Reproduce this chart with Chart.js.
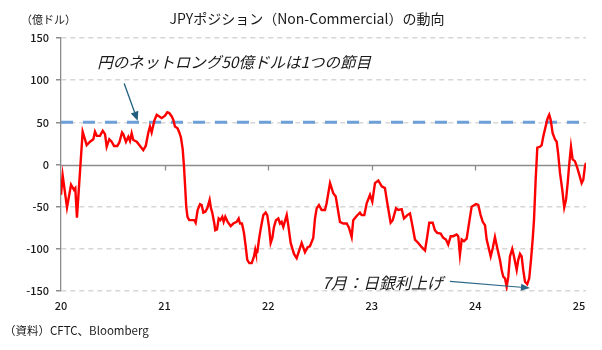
<!DOCTYPE html>
<html>
<head>
<meta charset="utf-8">
<script src="https://cdn.jsdelivr.net/npm/chart.js@4.4.1/dist/chart.umd.min.js"></script>
<style>
  html, body { margin: 0; padding: 0; background: #fff; }
</style>
</head>
<body>
<canvas id="chart" width="602" height="350"></canvas>
<script>
// week positions as decimal years, net non-commercial JPY position (100m USD)
const weekPos = [
  2020.000, 2020.016, 2020.058, 2020.097, 2020.125, 2020.138, 2020.154, 2020.209, 2020.248, 2020.280,
  2020.312, 2020.328, 2020.345, 2020.376, 2020.403, 2020.425, 2020.441, 2020.466, 2020.489, 2020.512,
  2020.543, 2020.563, 2020.589, 2020.601, 2020.627, 2020.650, 2020.666, 2020.682, 2020.698, 2020.731,
  2020.763, 2020.794, 2020.818, 2020.843, 2020.859, 2020.875, 2020.901, 2020.924, 2020.949, 2020.972,
  2021.004, 2021.026, 2021.045, 2021.069, 2021.084, 2021.100, 2021.125, 2021.142, 2021.158, 2021.175,
  2021.187, 2021.200, 2021.209, 2021.221, 2021.238, 2021.271, 2021.287, 2021.300, 2021.319, 2021.342,
  2021.358, 2021.374, 2021.393, 2021.412, 2021.435, 2021.448, 2021.460, 2021.480, 2021.489, 2021.506,
  2021.522, 2021.538, 2021.557, 2021.570, 2021.586, 2021.609, 2021.638, 2021.663, 2021.696, 2021.715,
  2021.728, 2021.747, 2021.766, 2021.783, 2021.798, 2021.818, 2021.841, 2021.863, 2021.875, 2021.882,
  2021.895, 2021.911, 2021.931, 2021.953, 2021.976, 2021.991, 2022.008, 2022.024, 2022.040, 2022.056,
  2022.075, 2022.098, 2022.114, 2022.130, 2022.146, 2022.179, 2022.194, 2022.217, 2022.249, 2022.275,
  2022.323, 2022.355, 2022.381, 2022.403, 2022.435, 2022.452, 2022.468, 2022.490, 2022.516, 2022.548,
  2022.564, 2022.597, 2022.628, 2022.652, 2022.693, 2022.725, 2022.758, 2022.780, 2022.806, 2022.821,
  2022.854, 2022.886, 2022.902, 2022.928, 2022.951, 2022.983, 2023.005, 2023.031, 2023.063, 2023.096,
  2023.127, 2023.150, 2023.182, 2023.202, 2023.234, 2023.256, 2023.289, 2023.311, 2023.343, 2023.369,
  2023.385, 2023.417, 2023.449, 2023.482, 2023.514, 2023.536, 2023.555, 2023.588, 2023.610, 2023.632,
  2023.665, 2023.690, 2023.716, 2023.738, 2023.762, 2023.787, 2023.819, 2023.835, 2023.851, 2023.868,
  2023.890, 2023.916, 2023.941, 2023.964, 2023.980, 2024.006, 2024.028, 2024.051, 2024.071, 2024.093,
  2024.109, 2024.125, 2024.148, 2024.168, 2024.189, 2024.211, 2024.237, 2024.254, 2024.269, 2024.286,
  2024.302, 2024.318, 2024.334, 2024.356, 2024.373, 2024.399, 2024.414, 2024.431, 2024.447, 2024.462,
  2024.479, 2024.501, 2024.520, 2024.537, 2024.553, 2024.566, 2024.582, 2024.598, 2024.624, 2024.640,
  2024.655, 2024.682, 2024.698, 2024.713, 2024.727, 2024.746, 2024.768, 2024.785, 2024.800, 2024.817,
  2024.839, 2024.858, 2024.875, 2024.891, 2024.906, 2024.923, 2024.939, 2024.961, 2024.984, 2025.003,
  2025.026, 2025.042, 2025.058, 2025.068
];
const netLong = [
  -36, -13, -51, -24, -30, -28, -63, 39, 23, 27,
  30, 39, 34, 34, 40, 36, 21, 30, 27, 22,
  22, 26, 38, 36, 27, 33, 28, 37, 29, 27,
  22, 17, 22, 38, 45, 38, 52, 59, 57, 55,
  58, 62, 61, 57, 53, 45, 43, 38, 32, 18,
  -2, -30, -50, -62, -66, -66, -66, -69, -54, -47,
  -48, -57, -56, -52, -42, -52, -57, -70, -78, -77,
  -64, -66, -62, -68, -62, -68, -73, -70, -68, -64,
  -70, -70, -81, -97, -113, -117, -117, -109, -101, -105,
  -104, -89, -74, -60, -57, -60, -74, -93, -87, -74,
  -66, -64, -70, -68, -74, -60, -72, -93, -106, -111,
  -93, -104, -98, -97, -87, -64, -52, -48, -54, -54,
  -46, -22, -34, -38, -68, -70, -70, -75, -86, -66,
  -61, -57, -60, -60, -46, -36, -44, -22, -19, -26,
  -28, -46, -69, -66, -52, -54, -53, -64, -60, -58,
  -68, -89, -93, -98, -102, -85, -69, -69, -78, -81,
  -82, -87, -89, -95, -85, -85, -83, -85, -107, -89,
  -91, -88, -68, -50, -49, -47, -48, -60, -68, -72,
  -89, -97, -109, -99, -86, -99, -113, -125, -133, -135,
  -145, -133, -109, -100, -109, -125, -113, -106, -109, -125,
  -139, -142, -135, -113, -89, -66, -18, 20, 21, 23,
  33, 47, 55, 59, 53, 37, 30, 27, 12, -10,
  -30, -51, -42, -22, 0, 21, 6, 4, -4, -12,
  -22, -18, -2, 2
];
const milestone = 50;
const yTicks = [-150, -100, -50, 0, 50, 100, 150];
const yearTicks = [2020, 2021, 2022, 2023, 2024, 2025];
const xStart = 2020;
const xEnd = 2025.068;

const titleText = 'JPYポジション（Non-Commercial）の動向';
const unitText = '（億ドル）';
const sourceText = '（資料）CFTC、Bloomberg';
const note1 = { text: '円のネットロング50億ドルは1つの節目', x: 2020.35, y: 122, from: [2020.61, 96], to: [2020.74, 52] };
const note2 = { text: '7月：日銀利上げ', x: 2022.52, y: -140.5, from: [2023.755, -138.7], to: [2024.527, -146.4] };

const jpFont = '"Noto Sans CJK JP", "Noto Sans", sans-serif';

function drawArrow(ctx, x1, y1, x2, y2, color, width, headLen, headW) {
  const ang = Math.atan2(y2 - y1, x2 - x1);
  const bx = x2 - headLen * Math.cos(ang);
  const by = y2 - headLen * Math.sin(ang);
  ctx.strokeStyle = color;
  ctx.fillStyle = color;
  ctx.lineWidth = width;
  ctx.beginPath();
  ctx.moveTo(x1, y1);
  ctx.lineTo(bx, by);
  ctx.stroke();
  ctx.beginPath();
  ctx.moveTo(x2, y2);
  ctx.lineTo(bx + headW / 2 * Math.sin(ang), by - headW / 2 * Math.cos(ang));
  ctx.lineTo(bx - headW / 2 * Math.sin(ang), by + headW / 2 * Math.cos(ang));
  ctx.closePath();
  ctx.fill();
}

const extras = {
  id: 'extras',
  beforeDatasetsDraw(chart) {
    const { ctx, chartArea: a, scales: { x, y } } = chart;
    const y0 = Math.round(y.getPixelForValue(0)) + 0.5;
    ctx.save();
    ctx.strokeStyle = '#8c8c8c';
    ctx.lineWidth = 1.3;
    ctx.beginPath();
    ctx.moveTo(a.left, y0);
    ctx.lineTo(a.right, y0);
    yearTicks.slice(1, -1).forEach(t => {
      const px = Math.round(x.getPixelForValue(t)) + 0.5;
      ctx.moveTo(px, y0);
      ctx.lineTo(px, y0 + 5);
    });
    ctx.stroke();
    ctx.restore();
  },
  afterDatasetsDraw(chart) {
    const { ctx, scales: { x, y } } = chart;
    ctx.save();
    ctx.fillStyle = '#1a1a1a';
    ctx.textBaseline = 'middle';
    ctx.textAlign = 'left';
    ctx.font = 'italic 15.5px ' + jpFont;
    ctx.fillText(note1.text, x.getPixelForValue(note1.x), y.getPixelForValue(note1.y));
    ctx.font = 'italic 16px ' + jpFont;
    ctx.fillText(note2.text, x.getPixelForValue(note2.x), y.getPixelForValue(note2.y));
    drawArrow(ctx, x.getPixelForValue(note1.from[0]), y.getPixelForValue(note1.from[1]),
      x.getPixelForValue(note1.to[0]), y.getPixelForValue(note1.to[1]), '#215f7e', 1.3, 9, 8);
    drawArrow(ctx, x.getPixelForValue(note2.from[0]), y.getPixelForValue(note2.from[1]),
      x.getPixelForValue(note2.to[0]), y.getPixelForValue(note2.to[1]), '#2a6786', 1.2, 9, 7);
    ctx.restore();
  },
  afterDraw(chart) {
    const { ctx } = chart;
    ctx.save();
    ctx.fillStyle = '#1a1a1a';
    ctx.textBaseline = 'middle';
    ctx.textAlign = 'center';
    ctx.font = '14px ' + jpFont;
    ctx.fillText(titleText, 307, 19);
    ctx.textAlign = 'left';
    ctx.font = '11px ' + jpFont;
    ctx.fillText(unitText, 21, 20);
    ctx.font = '11.5px ' + jpFont;
    ctx.fillText(sourceText, 4, 331);
    ctx.restore();
  }
};

new Chart(document.getElementById('chart'), {
  type: 'line',
  data: {
    datasets: [
      {
        label: 'JPY Non-Commercial',
        data: weekPos.map((t, i) => ({ x: t, y: netLong[i] })),
        borderColor: '#ff0000',
        borderWidth: 2.4,
        pointRadius: 0,
        tension: 0,
        order: 0
      },
      {
        label: '50億ドル',
        data: [{ x: xStart, y: milestone }, { x: xEnd, y: milestone }],
        borderColor: '#6d9fd9',
        borderWidth: 3,
        borderDash: [12, 10],
        pointRadius: 0,
        order: 1
      }
    ]
  },
  options: {
    responsive: false,
    animation: false,
    layout: { padding: { left: 0, right: 16, top: 38, bottom: 35 } },
    plugins: {
      legend: { display: false },
      tooltip: { enabled: false }
    },
    scales: {
      x: {
        type: 'linear',
        min: xStart,
        max: xEnd,
        afterBuildTicks: s => { s.ticks = yearTicks.map(v => ({ value: v })); },
        afterFit: s => { s.height = 24; },
        grid: { display: false, drawTicks: false },
        border: { display: false },
        ticks: {
          padding: 8,
          maxRotation: 0,
          color: '#1a1a1a',
          font: { family: jpFont, size: 11, weight: '500' },
          callback: v => String(v).slice(2)
        }
      },
      y: {
        min: -150,
        max: 150,
        afterBuildTicks: s => { s.ticks = yTicks.map(v => ({ value: v })); },
        afterFit: s => { s.width = 61; },
        grid: {
          color: c => c.tick && c.tick.value === 0 ? 'rgba(0,0,0,0)' : '#d6d6d6',
          lineWidth: 1.5,
          tickColor: '#8c8c8c',
          tickLength: 5,
          tickBorderDash: []
        },
        border: { display: true, color: '#8c8c8c', width: 1.3, dash: [5, 4] },
        ticks: {
          padding: 7,
          color: '#1a1a1a',
          font: { family: jpFont, size: 11, weight: '500' }
        }
      }
    }
  },
  plugins: [extras]
});
</script>
</body>
</html>
